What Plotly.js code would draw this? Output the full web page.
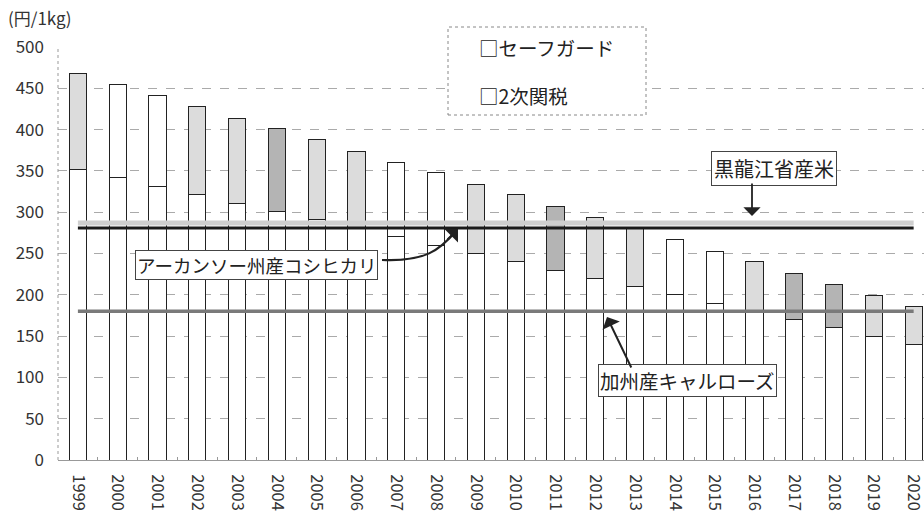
<!DOCTYPE html>
<html>
<head>
<meta charset="utf-8">
<script src="https://cdn.plot.ly/plotly-3.0.1.min.js"></script>
<style>html,body{margin:0;padding:0;background:#fff;}#chart{width:924px;height:514px;}</style>
</head>
<body>
<div id="chart"></div>
<script>
// ---- data ----
const years = ["1999","2000","2001","2002","2003","2004","2005","2006","2007","2008","2009","2010","2011","2012","2013","2014","2015","2016","2017","2018","2019","2020"];
const totalTariff = [468, 455, 441, 428, 414, 401, 388, 374, 360, 348, 334, 321, 307, 294, 282, 267, 253, 240, 226, 213, 199, 186];
const lowerPart   = [352, 342, 331, 322, 311, 301, 291, 280, 270, 260, 250, 240, 230, 220, 210, 200, 190, 180, 170, 160, 150, 140];
const heilongjiangRice = 281;   // 黒龍江省産米
const arkansasKoshihikari = 287; // アーカンソー州産コシヒカリ
const californiaCalrose = 180;  // 加州産キャルローズ
const legendLabels = ["セーフガード", "2次関税"];
const lineLabels = ["黒龍江省産米", "アーカンソー州産コシヒカリ", "加州産キャルローズ"];

// ---- styles ----
const shadeKey = ["l","w","w","l","l","d","l","l","w","w","l","l","d","l","l","w","w","l","d","d","l","l"];
const shadeColor = {w:"#ffffff", l:"#dcdcdc", d:"#b4b4b4"};
const upperPart = totalTariff.map((t,i) => t - lowerPart[i]);

const L = 58, T = 47, W = 866, H = 413;
const px = v => (v - L) / W;
const py = v => (T + H - v) / H;
const FONT = "Noto Sans CJK JP, Noto Sans, sans-serif";

const first = years[0], last = years[years.length-1];

const traces = [
  {type:"bar", x:years, y:lowerPart, name:legendLabels[1], width:0.43,
   marker:{color:"#ffffff", line:{color:"#222", width:1}}, hoverinfo:"skip"},
  {type:"bar", x:years, y:upperPart, name:legendLabels[0], width:0.43,
   marker:{color:shadeKey.map(k=>shadeColor[k]), line:{color:"#222", width:1}}, hoverinfo:"skip"},
  {type:"scatter", mode:"lines", x:[first,last], y:[arkansasKoshihikari,arkansasKoshihikari], name:lineLabels[1],
   line:{color:"#cfcfcf", width:5}},
  {type:"scatter", mode:"lines", x:[first,last], y:[heilongjiangRice,heilongjiangRice], name:lineLabels[0],
   line:{color:"#1a1a1a", width:3}},
  {type:"scatter", mode:"lines", x:[first,last], y:[californiaCalrose,californiaCalrose], name:lineLabels[2],
   line:{color:"#7a7a7a", width:3.5}}
];

const layout = {
  width:924, height:514,
  margin:{l:L, r:0, t:T, b:514-T-H, pad:0},
  paper_bgcolor:"#fff", plot_bgcolor:"#fff",
  barmode:"stack", showlegend:false,
  font:{family:FONT, color:"#222"},
  xaxis:{type:"category", range:[-0.5, 21.26], tickangle:90, tickfont:{size:16.5, color:"#333"},
         ticks:"inside", ticklen:3, tickcolor:"#999", tickson:"boundaries",
         showgrid:false, showline:true, linecolor:"#999", linewidth:1, ticklabelstandoff:10, fixedrange:true},
  yaxis:{range:[0,500], dtick:50, tickfont:{size:17, color:"#333"}, showgrid:true, gridcolor:"#aaa",
         griddash:"dash", gridwidth:1, zeroline:false, showline:false, ticks:"", ticklabelstandoff:13, fixedrange:true},
  shapes:[
    {type:"line", xref:"paper", yref:"paper", x0:0, x1:0, y0:0, y1:1, line:{color:"#999", width:1, dash:"dot"}},
    {type:"rect", xref:"paper", yref:"paper", x0:px(448), x1:px(646), y0:py(115), y1:py(27),
     line:{color:"#888", width:1, dash:"dot"}, fillcolor:"#fff", layer:"above"},
    {type:"path", xref:"paper", yref:"paper",
     path:`M ${px(382)},${py(260)} C ${px(425)},${py(262)} ${px(440)},${py(250)} ${px(456)},${py(231)}`,
     line:{color:"#222", width:2.2}}
  ],
  annotations:[
    {xref:"paper", yref:"paper", x:px(6), y:py(18), xanchor:"left", yanchor:"middle", showarrow:false,
     text:"(円/1kg)", font:{size:17, color:"#333"}},
    {xref:"paper", yref:"paper", x:px(477), y:py(47), xanchor:"left", yanchor:"middle", showarrow:false,
     text:"□" + legendLabels[0], font:{size:19.5, color:"#222"}},
    {xref:"paper", yref:"paper", x:px(477), y:py(95), xanchor:"left", yanchor:"middle", showarrow:false,
     text:"□" + legendLabels[1], font:{size:19.5, color:"#222"}},
    // 黒龍江省産米
    {xref:"paper", yref:"paper", x:px(774), y:py(168), xanchor:"center", yanchor:"middle", showarrow:false,
     text:lineLabels[0], font:{size:20, color:"#222"}, bgcolor:"#fff", bordercolor:"#444", borderwidth:1, borderpad:2},
    {xref:"paper", yref:"paper", x:px(752), y:py(216), text:"", showarrow:true, ax:0, ay:-34,
     arrowhead:1, arrowsize:1.6, arrowwidth:1.8, arrowcolor:"#222", standoff:0, startstandoff:0},
    // アーカンソー州産コシヒカリ
    {xref:"paper", yref:"paper", x:px(256), y:py(265), xanchor:"center", yanchor:"middle", showarrow:false,
     text:lineLabels[1], font:{size:18.5, color:"#222"}, bgcolor:"#fff", bordercolor:"#444", borderwidth:1, borderpad:1},
    {xref:"paper", yref:"paper", x:px(458), y:py(229), text:"", showarrow:true, ax:-12, ay:12,
     arrowhead:1, arrowsize:1.6, arrowwidth:2, arrowcolor:"#222", standoff:0, startstandoff:0},
    // 加州産キャルローズ
    {xref:"paper", yref:"paper", x:px(687), y:py(380), xanchor:"center", yanchor:"middle", showarrow:false,
     text:lineLabels[2], font:{size:19.5, color:"#222"}, bgcolor:"#fff", bordercolor:"#444", borderwidth:1, borderpad:1},
    {xref:"paper", yref:"paper", x:px(607), y:py(317), text:"", showarrow:true, ax:25, ay:52,
     arrowhead:1, arrowsize:1.6, arrowwidth:2, arrowcolor:"#222", standoff:0, startstandoff:0}
  ]
};

Plotly.newPlot("chart", traces, layout, {staticPlot:true, displayModeBar:false});
</script>
</body>
</html>
